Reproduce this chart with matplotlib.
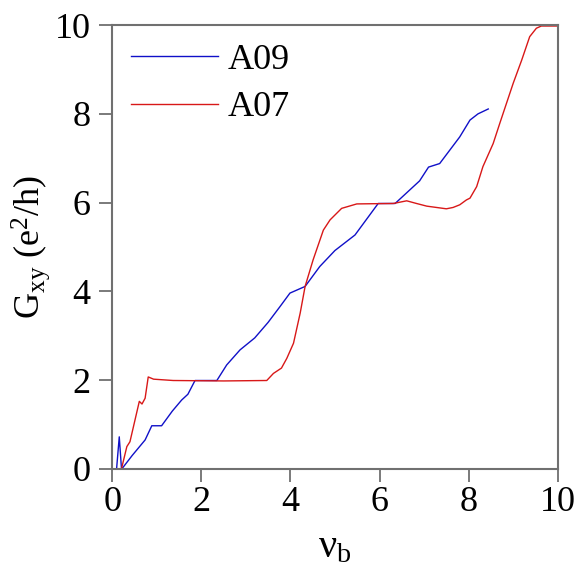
import matplotlib
matplotlib.use("Agg")
import matplotlib.pyplot as plt

plt.rcParams['font.family'] = ['Liberation Serif', 'DejaVu Serif']
plt.rcParams['mathtext.fontset'] = 'custom'
plt.rcParams['mathtext.rm'] = 'Liberation Serif'
plt.rcParams['mathtext.it'] = 'Liberation Serif:italic'

# A09 (blue)
a09_x = [0.0, 0.1, 0.16, 0.21, 0.22, 0.45, 0.74, 0.89, 1.11, 1.35, 1.56, 1.7, 1.86, 2.35,
         2.57, 2.87, 3.2, 3.5, 3.77, 3.99, 4.33, 4.66, 5.0, 5.45, 5.97, 6.35, 6.9, 7.1,
         7.35, 7.8, 8.03, 8.21, 8.44]
a09_y = [0.0, 0.0, 0.72, 0.0, 0.0, 0.3, 0.65, 0.97, 0.97, 1.3, 1.55, 1.68, 1.99, 1.99,
         2.34, 2.68, 2.95, 3.3, 3.66, 3.96, 4.11, 4.56, 4.92, 5.27, 5.98, 5.98, 6.49, 6.8,
         6.88, 7.48, 7.86, 8.0, 8.11]

# A07 (red)
a07_x = [0.21, 0.33, 0.40, 0.61, 0.67, 0.74, 0.81, 0.93, 1.37, 2.5, 3.47, 3.62, 3.8,
         3.92, 4.07, 4.22, 4.33, 4.51, 4.74, 4.89, 5.15, 5.49, 6.31, 6.61, 6.83, 7.06,
         7.5, 7.65, 7.8, 7.95, 8.03, 8.18, 8.32, 8.55, 8.70, 8.85, 9.0, 9.19, 9.37, 9.52,
         9.63, 9.97]
a07_y = [0.0, 0.5, 0.61, 1.52, 1.46, 1.59, 2.07, 2.02, 1.99, 1.98, 1.99, 2.15, 2.27,
         2.49, 2.83, 3.51, 4.11, 4.71, 5.38, 5.61, 5.87, 5.97, 5.98, 6.04, 5.98, 5.92,
         5.86, 5.89, 5.95, 6.06, 6.1, 6.36, 6.81, 7.33, 7.79, 8.24, 8.69, 9.21, 9.74, 9.93,
         9.98, 9.98]

ticks = [0, 2, 4, 6, 8, 10]

fig = plt.figure(figsize=(5.78, 5.71), dpi=100)
ax = fig.add_axes([0.194, 0.179, 0.771, 0.777])

ax.plot(a09_x, a09_y, color='#1010c8', lw=1.0, label='A09')
ax.plot(a07_x, a07_y, color='#d81818', lw=1.0, label='A07')

ax.set_xlim(0, 10)
ax.set_ylim(0, 10)
ax.set_xticks(ticks)
ax.set_yticks(ticks)
ax.tick_params(direction='out', length=9.5, width=1.3, color='#707070',
               labelsize=26)
ax.tick_params(axis='x', pad=3)
ax.tick_params(axis='y', pad=6)
for s in ax.spines.values():
    s.set_color('#707070')
    s.set_linewidth(1.5)

ax.set_xlabel(r'ν$_{\mathrm{b}}$', fontsize=29, labelpad=7)
ax.set_ylabel(r'G$_{\mathrm{xy}}$ (e$^{2}$/h)', fontsize=26, labelpad=2)

ax.legend(loc='upper left', frameon=False, fontsize=26, handlelength=2.4,
          handletextpad=0.28, labelspacing=0.39, bbox_to_anchor=(0.010, 0.991),
          borderaxespad=0)

fig.savefig('out.png', dpi=100)
